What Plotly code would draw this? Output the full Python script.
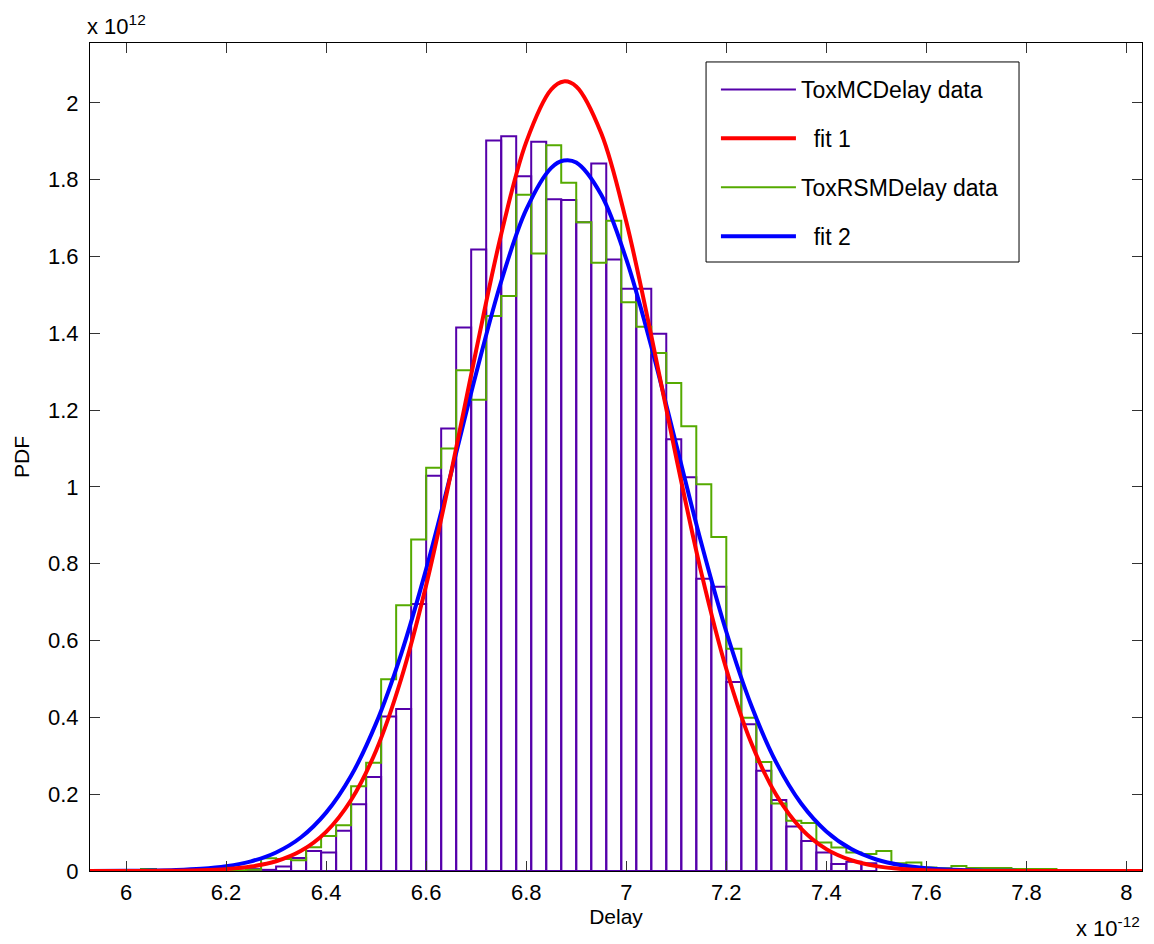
"""Histogram of ToxMCDelay / ToxRSMDelay with two normal fits (MATLAB dfittool style)."""

import plotly.graph_objects as go

# %%
# bin centres (x 1e-12 s), bin width 0.03
bin_centers = [
    6.045, 6.075, 6.105, 6.135, 6.165, 6.195, 6.225, 6.255, 6.285, 6.315,
    6.345, 6.375, 6.405, 6.435, 6.465, 6.495, 6.525, 6.555, 6.585, 6.615,
    6.645, 6.675, 6.705, 6.735, 6.765, 6.795, 6.825, 6.855, 6.885, 6.915,
    6.945, 6.975, 7.005, 7.035, 7.065, 7.095, 7.125, 7.155, 7.185, 7.215,
    7.245, 7.275, 7.305, 7.335, 7.365, 7.395, 7.425, 7.455, 7.485, 7.515,
    7.545, 7.575, 7.605, 7.635, 7.665, 7.695, 7.725, 7.755, 7.785, 7.815,
    7.845,
]
bin_width = 0.03

# ToxMCDelay data (PDF, x 1e12)
mc_pdf = [
    None, None, None, None, None, None, None, 0.005, 0.003, 0.012,
    0.034, 0.052, 0.048, 0.105, 0.174, 0.245, 0.402, 0.422, 0.695, 1.029,
    1.152, 1.415, 1.618, 1.902, 1.913, 1.809, 1.899, 1.749, 1.747, 1.689,
    1.842, 1.592, 1.516, 1.516, 1.399, 1.124, 1.025, 0.761, 0.740, 0.492,
    0.382, 0.261, 0.185, 0.116, 0.078, 0.048, 0.018, 0.024, 0.020, None,
    None, None, None, None, None, None, None, None, None, None,
    None,
]

# ToxRSMDelay data (PDF, x 1e12)
rsm_pdf = [
    0.005, 0.0, 0.0, 0.0, 0.004, 0.004, 0.002, 0.003, 0.033, 0.031,
    0.028, 0.062, 0.091, 0.119, 0.221, 0.282, 0.499, 0.692, 0.863, 1.050,
    1.100, 1.304, 1.227, 1.445, 1.497, 1.761, 1.608, 1.890, 1.792, 1.689,
    1.584, 1.693, 1.481, 1.417, 1.349, 1.271, 1.158, 1.007, 0.870, 0.579,
    0.399, 0.284, 0.176, 0.131, 0.125, 0.074, 0.061, 0.048, 0.044, 0.052,
    0.020, 0.022, 0.009, 0.007, 0.013, 0.008, 0.008, 0.008, 0.005, 0.005,
    0.005,
]

# fitted curves
fit_x = [
    5.90, 6.00, 6.05, 6.10, 6.15, 6.20, 6.25, 6.30, 6.35, 6.40,
    6.45, 6.50, 6.55, 6.60, 6.65, 6.70, 6.75, 6.80, 6.85, 6.875,
    6.90, 6.95, 7.00, 7.05, 7.10, 7.15, 7.20, 7.25, 7.30, 7.35,
    7.40, 7.45, 7.50, 7.55, 7.60, 7.70, 7.80, 8.05,
]
fit1_pdf = [
    0.0, 0.0001, 0.0003, 0.0007, 0.0019, 0.0049, 0.0115, 0.0254, 0.0526, 0.102,
    0.185, 0.314, 0.500, 0.744, 1.038, 1.356, 1.658, 1.898, 2.035, 2.056,
    2.043, 1.921, 1.691, 1.394, 1.076, 0.777, 0.526, 0.333, 0.198, 0.110,
    0.057, 0.028, 0.0127, 0.0054, 0.0022, 0.0003, 0.0, 0.0,
]
fit2_pdf = [
    0.0001, 0.0004, 0.0011, 0.0026, 0.0058, 0.0124, 0.0251, 0.0483, 0.0879, 0.152,
    0.248, 0.385, 0.565, 0.786, 1.037, 1.296, 1.535, 1.722, 1.831, 1.850,
    1.845, 1.761, 1.593, 1.366, 1.110, 0.854, 0.623, 0.431, 0.282, 0.175,
    0.103, 0.057, 0.030, 0.015, 0.0072, 0.0014, 0.0002, 0.0,
]

x_ticks = [6.0, 6.2, 6.4, 6.6, 6.8, 7.0, 7.2, 7.4, 7.6, 7.8, 8.0]
y_ticks = [0, 0.2, 0.4, 0.6, 0.8, 1.0, 1.2, 1.4, 1.6, 1.8, 2.0]

# %%
# stairs outline for the RSM histogram
edges = [c - bin_width / 2 for c in bin_centers] + [bin_centers[-1] + bin_width / 2]
stair_x = [edges[0]] + edges
stair_y = [0.0] + rsm_pdf + [0.0]

FONT = "Liberation Sans, Arial, Helvetica, sans-serif"
PURPLE = "#5500aa"
GREEN = "#55aa00"

fig = go.Figure()

# histogram bars (outline only), legend entry drawn as a line below
fig.add_trace(
    go.Bar(
        x=bin_centers,
        y=mc_pdf,
        width=bin_width,
        name="ToxMCDelay data",
        marker={"color": "rgba(0,0,0,0)", "line": {"color": PURPLE, "width": 2}},
        showlegend=False,
        legendgroup="a",
    )
)
fig.add_trace(
    go.Scatter(
        x=[None],
        y=[None],
        mode="lines",
        line={"color": PURPLE, "width": 2},
        name="ToxMCDelay data",
        legendrank=1,
        legendgroup="a",
    )
)
fig.add_trace(
    go.Scatter(
        x=stair_x,
        y=stair_y,
        mode="lines",
        line={"color": GREEN, "width": 2, "shape": "hv"},
        name="ToxRSMDelay data",
        legendrank=3,
        legendgroup="c",
    )
)
fig.add_trace(
    go.Scatter(
        x=fit_x,
        y=fit2_pdf,
        mode="lines",
        line={"color": "#0000ff", "width": 4, "shape": "spline"},
        name="\u00a0\u00a0fit 2",
        legendrank=4,
        legendgroup="d",
    )
)
fig.add_trace(
    go.Scatter(
        x=fit_x,
        y=fit1_pdf,
        mode="lines",
        line={"color": "#ff0000", "width": 4, "shape": "spline"},
        name="\u00a0\u00a0fit 1",
        legendrank=2,
        legendgroup="b",
    )
)

axis_common = {
    "showgrid": False,
    "zeroline": False,
    "showline": True,
    "linecolor": "black",
    "linewidth": 1,
    "mirror": "ticks",
    "ticks": "inside",
    "ticklen": 10,
    "tickcolor": "#333333",
    "tickfont": {"family": FONT, "size": 22, "color": "black"},
    "automargin": False,
}

fig.update_xaxes(
    **axis_common,
    range=[5.928, 8.031],
    tickvals=x_ticks,
    title={"text": "Delay", "font": {"family": FONT, "size": 21}, "standoff": 4},
    ticklabelstandoff=2,
)
fig.update_yaxes(
    **axis_common,
    range=[0, 2.156],
    tickvals=y_ticks,
    title={"text": "PDF", "font": {"family": FONT, "size": 21}, "standoff": 12},
    ticklabelstandoff=6,
)

fig.add_annotation(
    text="x 10<sup>12</sup>",
    xref="paper", yref="paper",
    x=-0.005, y=1.002,
    xanchor="left", yanchor="bottom",
    showarrow=False,
    font={"family": FONT, "size": 22, "color": "black"},
)
fig.add_annotation(
    text="x 10<sup>-12</sup>",
    xref="paper", yref="paper",
    x=1.0, y=-0.087,
    xanchor="right", yanchor="bottom",
    showarrow=False,
    font={"family": FONT, "size": 22, "color": "black"},
)

# legend frame, drawn separately so its padding matches the MATLAB box
fig.add_shape(
    type="rect",
    xref="paper", yref="paper",
    x0=0.5856, x1=0.8831, y0=0.7355, y1=0.9771,
    line={"color": "black", "width": 1},
    fillcolor="white",
    layer="above",
)

fig.update_layout(
    width=1154,
    height=944,
    margin={"l": 82, "r": 20, "t": 35, "b": 81},
    plot_bgcolor="white",
    paper_bgcolor="white",
    font={"family": FONT, "size": 21, "color": "black"},
    barmode="overlay",
    legend={
        "x": 0.5950,
        "y": 0.9698,
        "xanchor": "left",
        "yanchor": "top",
        "bgcolor": "rgba(0,0,0,0)",
        "borderwidth": 0,
        "font": {"family": FONT, "size": 23, "color": "black"},
        "traceorder": "grouped",
        "tracegroupgap": 16,
        "itemwidth": 75,
    },
)

fig.write_html("out.html")
